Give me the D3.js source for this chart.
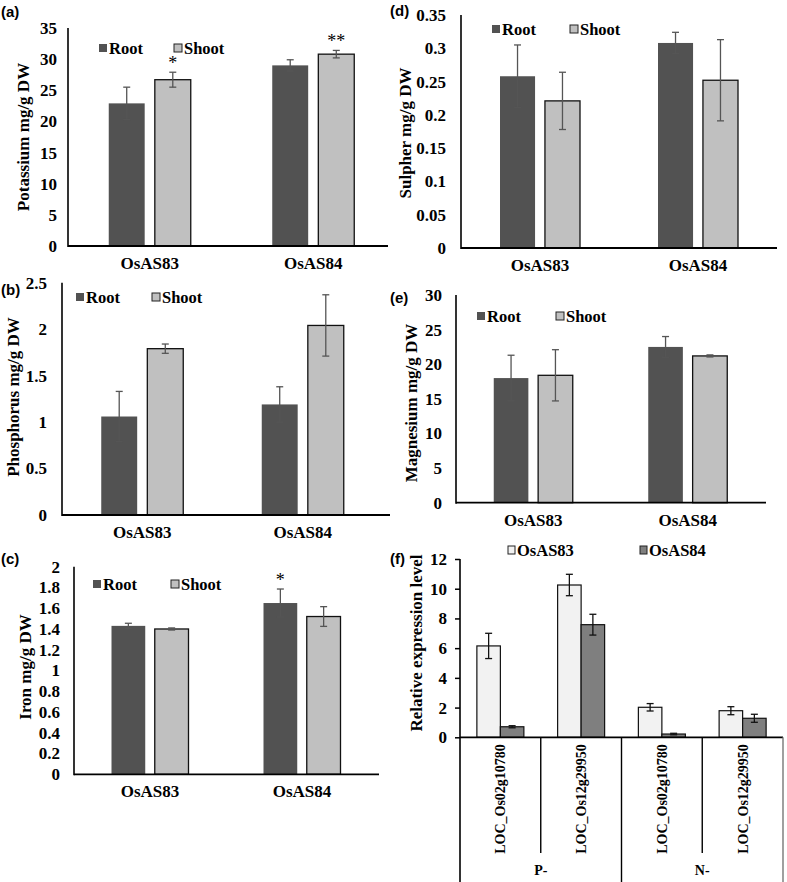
<!DOCTYPE html>
<html><head><meta charset="utf-8">
<script src="https://cdn.jsdelivr.net/npm/d3@7"></script>
<style>
body{margin:0;background:#fff;}
svg{display:block;}
text{font-family:"Liberation Serif","Times New Roman",serif;font-weight:bold;fill:#000;}
.plabel{font-family:"Liberation Sans",Arial,sans-serif;}
</style></head>
<body>
<svg id="chart" width="787" height="882"></svg>
<script>
// ---------- data ----------
const categories = ["OsAS83", "OsAS84"];
const tissues = ["Root", "Shoot"];

const potassiumRoot = [22.9, 29.0];
const potassiumShoot = [26.7, 30.8];
const potassiumRootErr = [2.6, 0.9];
const potassiumShootErr = [1.2, 0.6];
const potassiumTicks = [0, 5, 10, 15, 20, 25, 30, 35];

const phosphorusRoot = [1.06, 1.19];
const phosphorusShoot = [1.79, 2.04];
const phosphorusRootErr = [0.27, 0.19];
const phosphorusShootErr = [0.05, 0.33];
const phosphorusTicks = [0, 0.5, 1, 1.5, 2, 2.5];

const ironRoot = [1.43, 1.65];
const ironShoot = [1.40, 1.52];
const ironRootErr = [0.025, 0.135];
const ironShootErr = [0.01, 0.095];
const ironTicks = [0, 0.2, 0.4, 0.6, 0.8, 1, 1.2, 1.4, 1.6, 1.8, 2];

const sulpherRoot = [0.258, 0.308];
const sulpherShoot = [0.221, 0.252];
const sulpherRootErr = [0.047, 0.016];
const sulpherShootErr = [0.043, 0.061];
const sulpherTicks = [0, 0.05, 0.1, 0.15, 0.2, 0.25, 0.3, 0.35];

const magnesiumRoot = [18.0, 22.5];
const magnesiumShoot = [18.4, 21.2];
const magnesiumRootErr = [3.3, 1.5];
const magnesiumShootErr = [3.7, 0.15];
const magnesiumTicks = [0, 5, 10, 15, 20, 25, 30];

const genes = ["LOC_Os02g10780", "LOC_Os12g29950", "LOC_Os02g10780", "LOC_Os12g29950"];
const conditions = ["P-", "N-"];
const lines = ["OsAS83", "OsAS84"];
const exprOsAS83 = [6.15, 10.25, 2.02, 1.79];
const exprOsAS83Err = [0.85, 0.72, 0.25, 0.27];
const exprOsAS84 = [0.71, 7.58, 0.22, 1.28];
const exprOsAS84Err = [0.07, 0.70, 0.05, 0.27];
const exprTicks = [0, 2, 4, 6, 8, 10, 12];

// ---------- drawing ----------
const svg = d3.select("#chart");
const fmt = d => String(+d.toFixed(2));
const ROOT = "#525252", SHOOT = "#c0c0c0";
const SERIF = '"Liberation Serif", "Times New Roman", serif';

function barPanel(o) {
  const g = svg.append("g");
  const x = d3.scaleBand().domain(categories).range([o.x0, o.xr]).padding(0);
  const y = d3.scaleLinear().domain([0, o.ticks[o.ticks.length - 1]]).range([o.y0, o.yTop]);
  const inner = d3.scaleBand().domain(tissues).range([-o.gw / 2, o.gw / 2]).paddingInner(0.22);
  const rows = [];
  categories.forEach((c, i) => {
    rows.push({c, t: "Root", v: o.root[i], e: o.rootErr[i]});
    rows.push({c, t: "Shoot", v: o.shoot[i], e: o.shootErr[i]});
  });
  const cx = d => x(d.c) + x.bandwidth() / 2 + inner(d.t);
  g.selectAll("rect.bar").data(rows).join("rect")
    .attr("x", cx).attr("width", inner.bandwidth())
    .attr("y", d => y(d.v)).attr("height", d => y(0) - y(d.v))
    .attr("fill", d => d.t === "Root" ? ROOT : SHOOT)
    .attr("stroke", d => d.t === "Root" ? "none" : "#111")
    .attr("stroke-width", 1.3);
  const mx = d => cx(d) + inner.bandwidth() / 2;
  const eg = g.selectAll("g.err").data(rows).join("g")
    .attr("stroke", "#555").attr("stroke-width", 1.3);
  eg.append("line").attr("x1", mx).attr("x2", mx)
    .attr("y1", d => y(d.v + d.e)).attr("y2", d => y(d.v - d.e));
  eg.append("line").attr("x1", d => mx(d) - 3.5).attr("x2", d => mx(d) + 3.5)
    .attr("y1", d => y(d.v + d.e)).attr("y2", d => y(d.v + d.e));
  eg.append("line").attr("x1", d => mx(d) - 3.5).attr("x2", d => mx(d) + 3.5)
    .attr("y1", d => y(d.v - d.e)).attr("y2", d => y(d.v - d.e));
  (o.stars || []).forEach(s => {
    const r = rows.find(d => d.c === s.c && d.t === s.t);
    g.append("text").attr("x", mx(r)).attr("y", y(r.v + r.e) - 3)
      .attr("text-anchor", "middle").style("font-size", "18px").style("font-weight", "normal").text(s.s);
  });
  const ya = g.append("g").attr("transform", `translate(${o.x0},0)`)
    .call(d3.axisLeft(y).tickValues(o.ticks).tickFormat(fmt).tickSize(0).tickPadding(o.tp || 13));
  ya.attr("font-family", null).attr("font-size", null);
  ya.select(".domain").remove();
  ya.selectAll("text").style("font-size", "17px").style("font-family", SERIF).style("font-weight", "bold");
  g.append("line").attr("x1", o.x0).attr("x2", o.x0).attr("y1", o.yTop).attr("y2", o.y0 + 1)
    .attr("stroke", "#000").attr("stroke-width", 1.6);
  g.append("line").attr("x1", o.x0).attr("x2", o.xEnd).attr("y1", o.y0).attr("y2", o.y0)
    .attr("stroke", "#000").attr("stroke-width", 1.8);
  g.selectAll("text.cat").data(categories).join("text").attr("class", "cat")
    .attr("x", d => x(d) + x.bandwidth() / 2).attr("y", o.y0 + o.catDy)
    .attr("text-anchor", "middle").style("font-size", "17px").text(d => d);
  g.append("text").attr("transform", `translate(${o.tx},${o.ty}) rotate(-90)`)
    .attr("text-anchor", "middle").attr("dominant-baseline", "middle").style("font-size", "17px").text(o.title);
  g.append("text").attr("class", "plabel").attr("x", o.lx).attr("y", o.ly).style("font-size", "15px").text(o.label);
  const lg = g.selectAll("g.leg").data(tissues).join("g")
    .attr("transform", (d, i) => `translate(${o.leg[i]},${o.legY})`);
  lg.append("rect").attr("x", 0).attr("y", -4).attr("width", 8).attr("height", 8)
    .attr("fill", d => d === "Root" ? ROOT : SHOOT).attr("stroke", d => d === "Root" ? "none" : "#222").attr("stroke-width", 1);
  lg.append("text").attr("x", 10).attr("y", 0).attr("dominant-baseline", "central").style("font-size", "16.5px").text(d => d);
}

barPanel({x0: 68, xr: 395, xEnd: 388, y0: 246, yTop: 28, gw: 82, ticks: potassiumTicks,
  root: potassiumRoot, shoot: potassiumShoot, rootErr: potassiumRootErr, shootErr: potassiumShootErr,
  stars: [{c: "OsAS83", t: "Shoot", s: "*"}, {c: "OsAS84", t: "Shoot", s: "**"}],
  catDy: 23, title: "Potassium mg/g DW", tx: 25, ty: 137, label: "(a)", lx: 1, ly: 17,
  leg: [99, 174], legY: 48, tp: 11});

barPanel({x0: 62, xr: 383, xEnd: 390, y0: 515, yTop: 282.7, gw: 82, ticks: phosphorusTicks,
  root: phosphorusRoot, shoot: phosphorusShoot, rootErr: phosphorusRootErr, shootErr: phosphorusShootErr,
  catDy: 23, title: "Phosphorus mg/g DW", tx: 15, ty: 397, label: "(b)", lx: 1, ly: 295,
  leg: [76, 152], legY: 297, tp: 15});

barPanel({x0: 74, xr: 378, xEnd: 379, y0: 774.3, yTop: 566.7, gw: 77, ticks: ironTicks,
  root: ironRoot, shoot: ironShoot, rootErr: ironRootErr, shootErr: ironShootErr,
  stars: [{c: "OsAS84", t: "Root", s: "*"}],
  catDy: 23, title: "Iron mg/g DW", tx: 27, ty: 667, label: "(c)", lx: 1, ly: 564,
  leg: [93, 171], legY: 584, tp: 14});

barPanel({x0: 461, xr: 777, xEnd: 777, y0: 248, yTop: 15, gw: 80, ticks: sulpherTicks,
  root: sulpherRoot, shoot: sulpherShoot, rootErr: sulpherRootErr, shootErr: sulpherShootErr,
  catDy: 23, title: "Sulpher mg/g DW", tx: 407, ty: 133, label: "(d)", lx: 390, ly: 16,
  leg: [492, 570], legY: 29, tp: 15});

barPanel({x0: 456, xr: 765, xEnd: 766, y0: 502.7, yTop: 295, gw: 79, ticks: magnesiumTicks,
  root: magnesiumRoot, shoot: magnesiumShoot, rootErr: magnesiumRootErr, shootErr: magnesiumShootErr,
  catDy: 23, title: "Magnesium mg/g DW", tx: 413, ty: 403, label: "(e)", lx: 390, ly: 303,
  leg: [477, 556], legY: 316, tp: 14});

// ---------- panel (f) ----------
(function () {
  const x0 = 460, xr = 783, y0 = 737.3, yTop = 559;
  const g = svg.append("g");
  const x = d3.scaleBand().domain(d3.range(genes.length)).range([x0, xr]).padding(0);
  const y = d3.scaleLinear().domain([0, 12]).range([y0, yTop]);
  const inner = d3.scaleBand().domain(lines).range([-23.5, 23.5]).paddingInner(0);
  const rows = [];
  genes.forEach((gn, i) => {
    rows.push({i, l: "OsAS83", v: exprOsAS83[i], e: exprOsAS83Err[i]});
    rows.push({i, l: "OsAS84", v: exprOsAS84[i], e: exprOsAS84Err[i]});
  });
  const cx = d => x(d.i) + x.bandwidth() / 2 + inner(d.l);
  const col = {OsAS83: "#f2f2f2", OsAS84: "#7f7f7f"};
  g.selectAll("rect.bar").data(rows).join("rect")
    .attr("x", cx).attr("width", inner.bandwidth())
    .attr("y", d => y(d.v)).attr("height", d => y(0) - y(d.v))
    .attr("fill", d => col[d.l]).attr("stroke", "#111").attr("stroke-width", 1.2);
  const eg = g.selectAll("g.err").data(rows).join("g").attr("stroke", "#111").attr("stroke-width", 1.3);
  const mx = d => cx(d) + inner.bandwidth() / 2;
  eg.append("line").attr("x1", mx).attr("x2", mx).attr("y1", d => y(d.v + d.e)).attr("y2", d => y(d.v - d.e));
  eg.append("line").attr("x1", d => mx(d) - 3.5).attr("x2", d => mx(d) + 3.5).attr("y1", d => y(d.v + d.e)).attr("y2", d => y(d.v + d.e));
  eg.append("line").attr("x1", d => mx(d) - 3.5).attr("x2", d => mx(d) + 3.5).attr("y1", d => y(d.v - d.e)).attr("y2", d => y(d.v - d.e));

  const ya = g.append("g").attr("transform", `translate(${x0},0)`)
    .call(d3.axisLeft(y).tickValues(exprTicks).tickFormat(fmt).tickSize(5).tickSizeOuter(0).tickPadding(8));
  ya.attr("font-family", null).attr("font-size", null);
  ya.select(".domain").remove();
  ya.selectAll("line").attr("stroke", "#000").attr("stroke-width", 1.5);
  ya.selectAll("text").style("font-size", "17px").style("font-family", SERIF).style("font-weight", "bold");
  g.append("line").attr("x1", x0).attr("x2", x0).attr("y1", yTop).attr("y2", 882).attr("stroke", "#000").attr("stroke-width", 1.6);
  g.append("line").attr("x1", x0).attr("x2", xr).attr("y1", y0).attr("y2", y0).attr("stroke", "#000").attr("stroke-width", 1.8);
  d3.range(1, genes.length + 1).forEach(k => {
    const xx = x0 + k * x.step();
    const long = k % 2 === 0;
    g.append("line").attr("x1", xx).attr("x2", xx).attr("y1", y0).attr("y2", long ? 882 : 853)
      .attr("stroke", k === genes.length ? "#777" : "#000").attr("stroke-width", 1.4);
  });
  g.selectAll("text.gene").data(genes).join("text").attr("class", "gene")
    .attr("transform", (d, i) => `translate(${x(i) + x.bandwidth() / 2 + 5},${799}) rotate(-90)`)
    .attr("text-anchor", "middle").style("font-size", "14px").text(d => d);
  g.selectAll("text.cond").data(conditions).join("text").attr("class", "cond")
    .attr("x", (d, i) => x0 + (2 * i + 1) * x.step()).attr("y", 875)
    .attr("text-anchor", "middle").style("font-size", "14px").text(d => d);
  g.append("text").attr("transform", `translate(418,643) rotate(-90)`)
    .attr("text-anchor", "middle").attr("dominant-baseline", "middle").style("font-size", "17px").text("Relative expression level");
  g.append("text").attr("class", "plabel").attr("x", 390).attr("y", 564).style("font-size", "15px").text("(f)");
  const lx = [508, 640];
  const lg = g.selectAll("g.leg").data(lines).join("g").attr("transform", (d, i) => `translate(${lx[i]},550)`);
  lg.append("rect").attr("x", 0).attr("y", -4).attr("width", 7).attr("height", 8)
    .attr("fill", d => col[d]).attr("stroke", "#222").attr("stroke-width", 1);
  lg.append("text").attr("x", 9).attr("y", 0).attr("dominant-baseline", "central").style("font-size", "16.5px").text(d => d);
})();
</script>
</body></html>
